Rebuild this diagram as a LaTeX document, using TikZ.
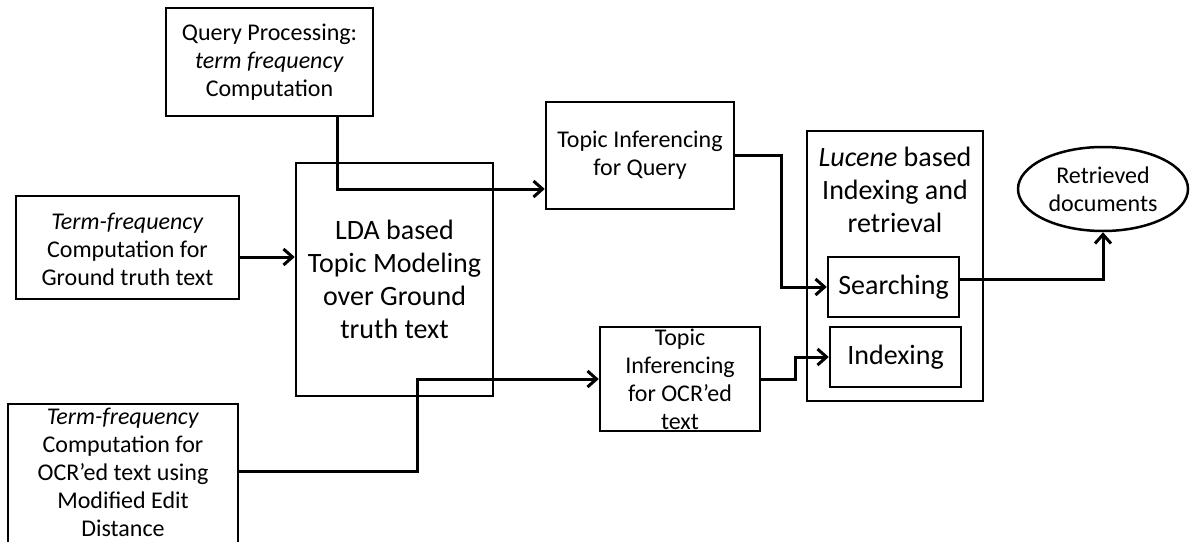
\documentclass[tikz,border=0pt]{standalone}
\usepackage{fontspec}
\setmainfont{Carlito}
\usetikzlibrary{arrows.meta,shapes.geometric}
\begin{document}
\begin{tikzpicture}[x=1pt,y=-1pt,
  box/.style={draw,line width=2.5pt,inner sep=0pt,align=center},
  txt/.style={align=center,inner sep=0pt},
  sm/.style={font=\fontsize{24}{28}\selectfont},
  lg/.style={font=\fontsize{28}{33}\selectfont},
  arr/.style={line width=3pt,-{Straight Barb[length=9pt,width=16pt,line width=3pt]}}]
\useasboundingbox (0,0) rectangle (1191,541);
\clip (0,0) rectangle (1191,541);
\node[box,sm,minimum width=207pt,minimum height=108pt] (A) at (269.5,62) {Query Processing:\\\textit{term frequency}\\Computation};
\node[box,minimum width=223pt,minimum height=103pt] (B) at (127.5,247.5) {};
\node[txt,sm] (Bt) at (127.5,249.5) {\textit{Term-frequency}\\Computation for\\Ground truth text};
\node[box,lg,minimum width=197pt,minimum height=233pt] (C) at (394.5,279.5) {LDA based\\Topic Modeling\\over Ground\\truth text};
\node[box,sm,minimum width=188pt,minimum height=107pt] (D) at (640,155.5) {Topic Inferencing\\for Query};
\node[box,minimum width=160pt,minimum height=104pt] (E) at (680,379) {};
\node[txt,sm] (Et) at (680,379) {Topic\\Inferencing\\for OCR'ed\\text};
\node[box,minimum width=176pt,minimum height=270pt] (F) at (895,266) {};
\node[txt,lg] (Ft) at (895,190) {\textit{Lucene} based\\Indexing and\\retrieval};
\node[box,lg,minimum width=131pt,minimum height=60pt] (S) at (893.5,287) {Searching};
\node[box,lg,minimum width=131pt,minimum height=60pt] (I) at (895.5,357) {Indexing};
\node[draw,line width=2.5pt,ellipse,sm,align=center,inner sep=0pt,minimum width=170pt,minimum height=84pt] (R) at (1103,189) {Retrieved\\documents};
\node[box,minimum width=230pt,minimum height=150pt] (G) at (123,479) {};
\node[txt,sm] (Gt) at (123,472) {\textit{Term-frequency}\\Computation for\\OCR'ed text using\\Modified Edit\\Distance};
% connectors
\coordinate (a1) at ([xshift=67.5pt]A.south);
\coordinate (d1) at ([yshift=-33.5pt]D.west);
\draw[arr] (a1) |- (d1);
\coordinate (b1) at ([yshift=-9.5pt]B.east);
\draw[arr] (b1) -- (b1 -| C.west);
\coordinate (g1) at ([yshift=8pt]G.east);
\coordinate (k1) at (417,379);
\draw[arr] (g1) -| (k1) -- (E.west);
\coordinate (ds) at (781,287);
\draw[arr] (D.east) -| (ds) -- (S.west);
\coordinate (ei) at (795,357);
\draw[arr] (E.east) -| (ei) -- (I.west);
\coordinate (s1) at ([yshift=8pt]S.east);
\draw[arr] (s1) -| (R.south);
\end{tikzpicture}
\end{document}
